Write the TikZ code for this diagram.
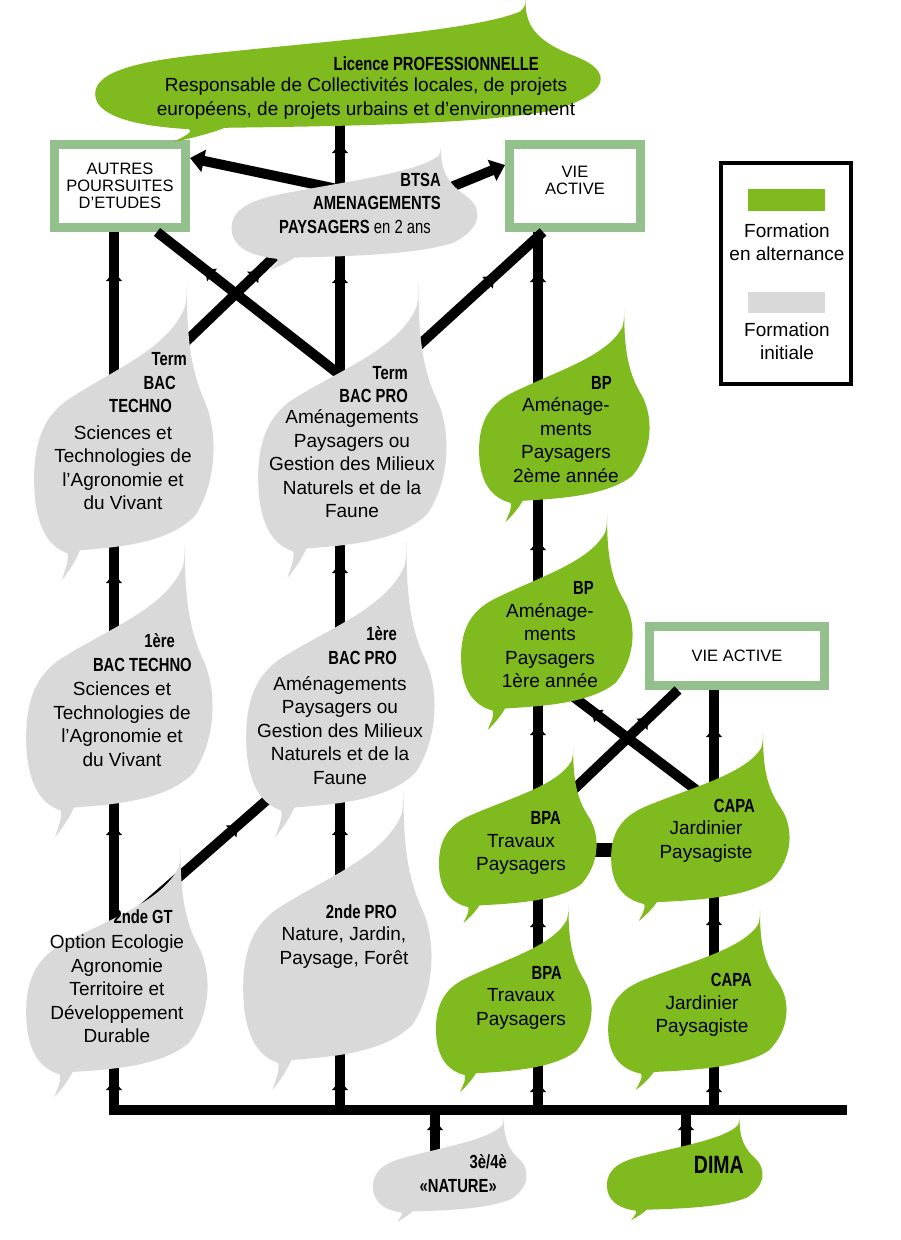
\documentclass[tikz,border=0pt]{standalone}
\usepackage{fontspec}
\setmainfont{Liberation Sans}
\newfontfamily\headfont{Liberation Sans}[FakeStretch=0.78]
\usetikzlibrary{arrows.meta,decorations.markings}

\definecolor{leafgreen}{HTML}{7FBA1E}
\definecolor{leafgrey}{HTML}{D9D9D9}
\definecolor{framegreen}{HTML}{93C08D}

\tikzset{
  flow/.style={line width=10pt, postaction={decorate},
    decoration={markings, mark=at position #1 with {\fill (0pt,-8pt) -- (9pt,0pt) -- (0pt,8pt) -- cycle;}}},
  bigarrow/.style={line width=10pt, -{Triangle[length=14pt,width=22pt]}},
  gbox/.style={draw=framegreen, line width=9pt, fill=white, outer sep=4.5pt, inner sep=0pt,
    align=center, font=\fontsize{16.5}{17}\selectfont},
  txt/.style={align=center, inner sep=0pt, font=\fontsize{19}{23.5}\selectfont},
  head/.style={align=right, anchor=east, inner sep=0pt, font=\headfont\bfseries\fontsize{19}{23.5}\selectfont},
}

% leaf: colour, left, top, width, height
\newcommand{\drawleaf}[5]{%
  \fill[#1, shift={(#2,#3)}, xscale=#4, yscale=#5]
    (0.85,0) .. controls (0.85,0.15) and (0.86,0.28) .. (0.95,0.4)
    .. controls (1.02,0.5) and (1.02,0.66) .. (0.9,0.78)
    .. controls (0.75,0.88) and (0.45,0.89) .. (0.26,0.9)
    .. controls (0.24,0.93) and (0.2,0.97) .. (0.16,1)
    .. controls (0.18,0.96) and (0.2,0.93) .. (0.19,0.91)
    .. controls (0.1,0.89) and (0.03,0.84) .. (0.01,0.72)
    .. controls (-0.01,0.55) and (0.05,0.45) .. (0.2,0.39)
    .. controls (0.45,0.29) and (0.75,0.22) .. (0.84,0.08)
    .. controls (0.85,0.05) and (0.85,0.02) .. (0.85,0) -- cycle;}

\begin{document}
\begin{tikzpicture}[x=1pt, y=-1pt]
    \useasboundingbox (0,0) rectangle (900,1240);

      \node[gbox, minimum width=131pt, minimum height=83pt] (autres) at (120,186) {AUTRES\\POURSUITES\\D’ETUDES};
      \node[gbox, minimum width=131pt, minimum height=83pt, text depth=12pt] (vie) at (575,186) {VIE\\ACTIVE};
      \node[gbox, minimum width=175pt, minimum height=59pt] (vie2) at (737,656) {VIE ACTIVE};

      \coordinate (busW) at (109,1110);
      \coordinate (busE) at (847,1110);
      \coordinate (busA) at (114,1110);
      \coordinate (busB) at (340,1110);
      \coordinate (busC) at (538,1110);
      \coordinate (busD) at (714,1110);
      \coordinate (busN) at (435,1110);
      \coordinate (busM) at (686,1110);

      \coordinate (licB) at (340,100);
      \coordinate (btsaB) at (340,215);
      \coordinate (btsaX) at (302,230);
      \coordinate (btsaW) at (380,198);
      \coordinate (btsaE) at (400,208);
      \coordinate (ttA) at (114,460);
      \coordinate (ttX) at (146,380);
      \coordinate (tpB) at (340,460);
      \coordinate (tpX) at (372,400);
      \coordinate (tpV) at (359,400);
      \coordinate (ptA) at (114,720);
      \coordinate (ppB) at (340,720);
      \coordinate (ppX) at (300,771);
      \coordinate (gtA) at (114,980);
      \coordinate (gtX) at (107,940);
      \coordinate (spB) at (340,1000);
      \coordinate (bp2C) at (538,430);
      \coordinate (bp1C) at (538,640);
      \coordinate (bp1X) at (550,679);
      \coordinate (bpa1C) at (538,840);
      \coordinate (bpa1X) at (550,812);
      \coordinate (bpa1H) at (580,850);
      \coordinate (capa1D) at (714,840);
      \coordinate (capa1X) at (720,808);
      \coordinate (capa1H) at (625,850);
      \coordinate (bpa2C) at (538,1000);
      \coordinate (capa2D) at (714,1000);
      \coordinate (natN) at (435,1170);
      \coordinate (dimaM) at (686,1170);

      \draw[line width=10pt] (busW) -- (busE);
      \draw[flow=20pt] (busA) -- (gtA);
      \draw[flow=145pt] (gtA) -- (ptA);
      \draw[flow=137pt] (ptA) -- (ttA);
      \draw[flow=179pt] (ttA) -- ([xshift=-6pt]autres.south);

      \draw[flow=20pt] (busB) -- (spB);
      \draw[flow=165pt] (spB) -- (ppB);
      \draw[flow=147pt] (ppB) -- (tpB);
      \draw[flow=177pt] (tpB) -- (btsaB);
      \draw[flow=62pt] (btsaB) -- (licB);

      \draw[flow=18pt] (busC) -- (bpa2C);
      \draw[flow=73pt] (bpa2C) -- (bpa1C);
      \draw[flow=105pt] (bpa1C) -- (bp1C);
      \draw[flow=90pt] (bp1C) -- (bp2C);
      \draw[flow=148pt] (bp2C) -- ([xshift=-37pt]vie.south);

      \draw[flow=18pt] (busD) -- (capa2D);
      \draw[flow=75pt] (capa2D) -- (capa1D);
      \draw[flow=103pt] (capa1D) -- ([xshift=-23pt]vie2.south);

      \draw[flow=40pt] (natN) -- (busN);
      \draw[flow=40pt] (dimaM) -- (busM);

      \draw[flow=203pt] (tpX) -- ([xshift=37pt]autres.south);
      \draw[flow=148pt] (ttX) -- (btsaX);
      \draw[flow=174pt] (tpV) -- ([xshift=-32pt]vie.south);
      \draw[flow=165pt] (gtX) -- (ppX);
      \draw[flow=152pt] (capa1X) -- (bp1X);
      \draw[flow=127pt] (bpa1X) -- ([xshift=-59pt]vie2.south);
      \draw[line width=14pt] (bpa1H) -- (capa1H);

      \draw[bigarrow] (btsaW) -- ([yshift=28pt]autres.east);
      \draw[bigarrow] (btsaE) -- ([yshift=21pt]vie.west);

      \drawleaf{leafgreen}{92}{0}{510}{142}
      \drawleaf{leafgrey}{230}{146}{248}{124}
      \drawleaf{leafgrey}{33}{283}{181}{297}
      \drawleaf{leafgrey}{257}{283}{190}{295}
      \drawleaf{leafgreen}{478}{310}{172}{212}
      \drawleaf{leafgrey}{25}{543}{188}{294}
      \drawleaf{leafgrey}{245}{542}{190}{295}
      \drawleaf{leafgreen}{460}{515}{173}{215}
      \drawleaf{leafgreen}{438}{747}{159}{176}
      \drawleaf{leafgreen}{610}{733}{180}{188}
      \drawleaf{leafgrey}{25}{847}{183}{250}
      \drawleaf{leafgrey}{242}{790}{190}{300}
      \drawleaf{leafgreen}{435}{905}{157}{187}
      \drawleaf{leafgreen}{607}{910}{180}{180}
      \drawleaf{leafgrey}{372}{1117}{155}{105}
      \drawleaf{leafgreen}{606}{1117}{157}{103}

      \node[head] (lic-h) at (539,64) {Licence PROFESSIONNELLE};
      \node[txt] (lic) at (366,98.5) {Responsable de Collectivités locales, de projets\\européens, de projets urbains et d’environnement};

      \node[head] (btsa) at (441,203) {BTSA\\AMENAGEMENTS\\PAYSAGERS {\mdseries en 2 ans}\hspace*{10pt}};

      \node[head] (termtech-h) at (176,383) {Term\hspace*{-11pt}\\BAC\hspace*{8pt}\\TECHNO\hspace*{4pt}};
      \node[txt] (termtech) at (123,467.5) {Sciences et\\Technologies de\\l’Agronomie et\\du Vivant};

      \node[head] (termpro-h) at (408,384.5) {Term\\BAC PRO};
      \node[txt] (termpro) at (352,464) {Aménagements\\Paysagers ou\\Gestion des Milieux\\Naturels et de la\\Faune};

      \node[head] (bp2-h) at (612,383) {BP};
      \node[txt] (bp2) at (566,440) {Aménage-\\ments\\Paysagers\\2ème année};

      \node[head] (premtech-h) at (192,652.5) {1ère\hspace*{17pt}\\BAC TECHNO};
      \node[txt] (premtech) at (122,724) {Sciences et\\Technologies de\\l’Agronomie et\\du Vivant};

      \node[head] (prempro-h) at (397,645.5) {1ère\\BAC PRO};
      \node[txt] (prempro) at (340,730.5) {Aménagements\\Paysagers ou\\Gestion des Milieux\\Naturels et de la\\Faune};

      \node[head] (bp1-h) at (594,588) {BP};
      \node[txt] (bp1) at (550,645.5) {Aménage-\\ments\\Paysagers\\1ère année};

      \node[head] (bpa1-h) at (561,818) {BPA};
      \node[txt] (bpa1) at (521,854.5) {Travaux\\Paysagers};

      \node[head] (capa1-h) at (755,806) {CAPA};
      \node[txt] (capa1) at (706,841.5) {Jardinier\\Paysagiste};

      \node[head] (gt-h) at (173,917) {2nde GT};
      \node[txt] (gt) at (117,989) {Option Ecologie\\Agronomie\\Territoire et\\Développement\\Durable};

      \node[head] (spro-h) at (397,912) {2nde PRO};
      \node[txt] (spro) at (344,947.5) {Nature, Jardin,\\Paysage, Forêt};

      \node[head] (bpa2-h) at (562,973) {BPA};
      \node[txt] (bpa2) at (521,1009) {Travaux\\Paysagers};

      \node[head] (capa2-h) at (752,980) {CAPA};
      \node[txt] (capa2) at (702,1016) {Jardinier\\Paysagiste};

      \node[head] (nature) at (507,1173.5) {3è/4è\\«NATURE»\hspace*{10pt}};
      \node[head, font=\headfont\bfseries\fontsize{25}{30}\selectfont] (dima) at (744,1165) {DIMA};

      \node[draw, line width=4pt, minimum width=130pt, minimum height=221pt] (legend) at (786,273.5) {};
      \fill[leafgreen] (748,189) rectangle (825,211);
      \node[txt] (alt) at (787,242) {Formation\\en alternance};
      \fill[leafgrey] (748,292) rectangle (825,313);
      \node[txt] (ini) at (787,341) {Formation\\initiale};

    \end{tikzpicture}
\end{document}
